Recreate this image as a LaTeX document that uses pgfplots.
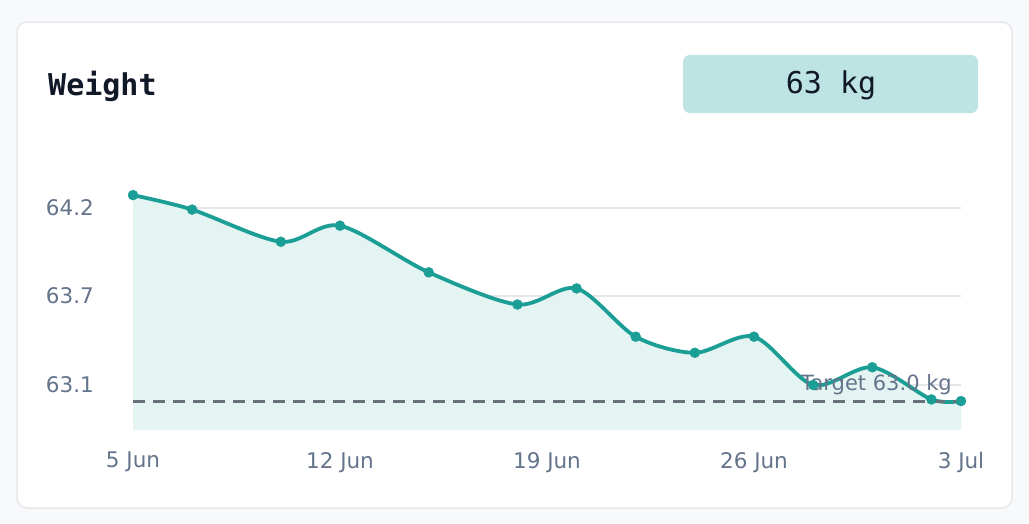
\documentclass[border=0pt]{standalone}
\usepackage{pgfplots}
\pgfplotsset{compat=1.18}
\usepackage{fontspec}
\setmainfont{DejaVu Sans}
\newfontfamily\monof{DejaVu Sans Mono}
\definecolor{pagebg}{HTML}{F8F9FA}
\definecolor{cardborder}{HTML}{E5E7EB}
\definecolor{teal}{HTML}{1A9E96}
\definecolor{tealfill}{HTML}{E4F4F2}
\definecolor{badge}{HTML}{BDE4E2}
\definecolor{gridc}{HTML}{E5E7EB}
\definecolor{dashc}{HTML}{687078}
\definecolor{tickc}{HTML}{64748B}
\definecolor{titlec}{HTML}{111827}
\pgfplotstableread{
day value
0 64.28
2 64.19
5 63.99
7 64.09
10 63.80
13 63.60
15 63.70
17 63.40
19 63.30
21 63.40
23 63.10
25 63.21
27 63.01
28 63.00
}\weightdata
\begin{document}
\begin{tikzpicture}
\fill[pagebg] (0,0) rectangle (1029pt,-523pt);
\draw[cardborder, line width=1.5pt, fill=white, rounded corners=10pt] (17pt,-22pt) rectangle (1012pt,-508pt);
\node[anchor=base west, inner sep=0pt, text=titlec] at (48pt,-95pt) {\monof\bfseries\fontsize{30}{34}\selectfont Weight};
\fill[badge, rounded corners=7pt] (683pt,-55pt) rectangle (978pt,-113pt);
\node[anchor=base, inner sep=0pt, text=titlec] at (831pt,-93pt) {\monof\fontsize{30}{34}\selectfont 63 kg};
\begin{axis}[
  at={(133pt,-430pt)}, anchor=south west,
  scale only axis, width=828pt, height=254.2pt,
  xmin=0, xmax=28, ymin=62.82, ymax=64.4,
  axis line style={draw=none},
  clip=false,
  xtick={0,7,14,21,28},
  xticklabels={5 Jun,12 Jun,19 Jun,26 Jun,3 Jul},
  ytick={63.1,63.653,64.2},
  yticklabels={63.1,63.7,64.2},
  major tick length=0pt,
  ymajorgrids,
  grid style={gridc, line width=1.2pt},
  tick label style={font=\fontsize{21.5}{25}\selectfont, text=tickc},
  yticklabel style={anchor=east, inner sep=0pt, xshift=-39pt},
  xticklabel style={anchor=north, inner sep=0pt, yshift=-22pt},
]
\addplot[fill=tealfill, draw=none, smooth, tension=0.5, forget plot] table[x=day, y=value] {\weightdata} \closedcycle;
\addplot[teal, line width=3.8pt, smooth, tension=0.5] table[x=day, y=value] {\weightdata};
\addplot[dashc, line width=3pt, dash pattern=on 12pt off 8pt] coordinates {(0,63.0) (28,63.0)};
\addplot[only marks, mark=*, mark size=5pt, mark options={fill=teal, draw=teal}] table[x=day, y=value] {\weightdata};
\node[anchor=base east, inner sep=0pt, text=tickc, font=\fontsize{21}{25}\selectfont] at ([xshift=-9pt, yshift=11pt]axis cs:28,63.0) {Target 63.0 kg};
\end{axis}
\end{tikzpicture}
\end{document}
